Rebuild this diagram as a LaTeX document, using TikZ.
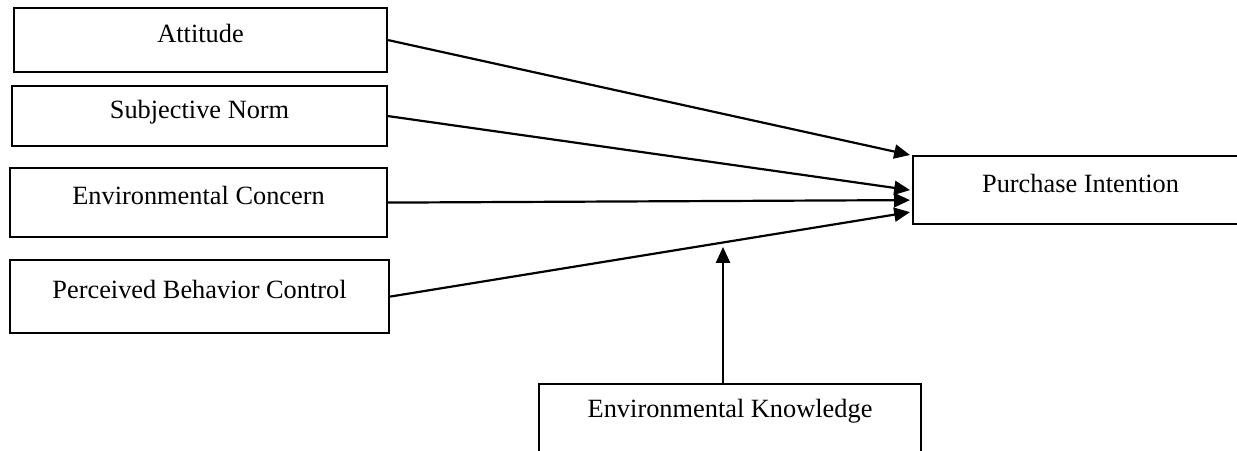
\documentclass[tikz,border=0pt]{standalone}
\usepackage{fontspec}
\setmainfont{Liberation Serif}
\usetikzlibrary{arrows.meta,calc}

\tikzset{
  varbox/.style={draw, line width=1.25pt, rectangle, anchor=north west, inner sep=0pt,
    text height=0.7em, text depth=0.45em, font=\fontsize{15}{18}\selectfont},
  link/.style={line width=1.25pt, -{Triangle[length=9pt,width=8pt]}}
}

\begin{document}
\begin{tikzpicture}[x=0.02cm, y=-0.02cm]
  % Frame of the picture
  \clip (0,0) rectangle (1237,450);

  % Predictors
  \node[varbox, minimum width=7.46cm, minimum height=1.28cm] (att) at (13,7) {Attitude};
  \node[varbox, minimum width=7.5cm, minimum height=1.2cm] (sn) at (11,85) {Subjective Norm};
  \node[varbox, minimum width=7.54cm, minimum height=1.38cm] (ec) at (9,167) {Environmental Concern};
  \node[varbox, minimum width=7.58cm, minimum height=1.46cm] (pbc) at (9,259) {Perceived Behavior Control};

  % Outcome and moderator
  \node[varbox, minimum width=6.7cm, minimum height=1.36cm] (pi) at (912,155) {Purchase Intention};
  \node[varbox, minimum width=7.64cm, minimum height=1.8cm, text depth=20.5pt] (ek) at (538,383) {Environmental Knowledge};

  % Arrow ends
  \coordinate (e1) at ($(pi.north west)+(-2,0)$);
  \coordinate (e2) at ($(pi.west)+(-2,0)$);
  \coordinate (e3) at ($(pi.west)+(-2,10)$);
  \coordinate (e4) at ($(pi.west)+(-2,22)$);
  \coordinate (mod) at (723,247);

  % Paths
  \draw[link] (att.east) -- (e1);
  \draw[link] (sn.east) -- (e2);
  \draw[link] (ec.east) -- (e3);
  \draw[link] (pbc.east) -- (e4);
  \draw[link] (ek.north -| mod) -- (mod);
\end{tikzpicture}
\end{document}
